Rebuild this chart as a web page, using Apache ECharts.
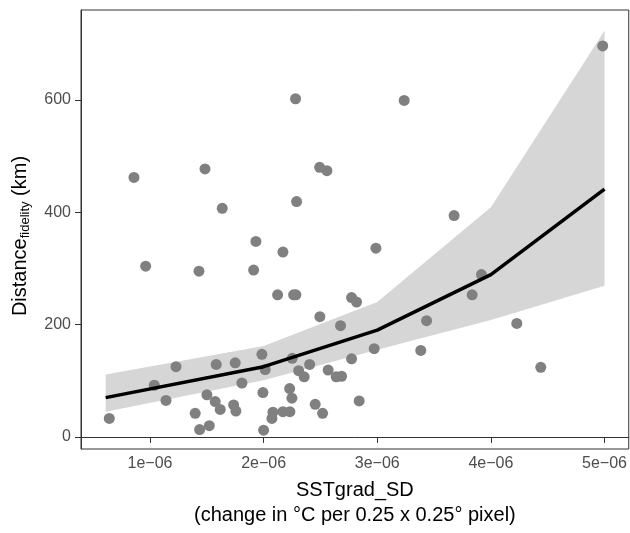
<!DOCTYPE html>
<html>
<head>
<meta charset="utf-8">
<script src="https://cdn.jsdelivr.net/npm/echarts@6/dist/echarts.min.js"></script>
<style>html,body{margin:0;padding:0;background:#fff;}#c{width:630px;height:533px;}</style>
</head>
<body>
<div id="c"></div>
<script>
// x values are in units of 1e-06 (SSTgrad_SD)
const pointX = [0.642,0.859,0.962,1.038,1.141,1.229,1.398,1.431,1.437,1.484,1.501,1.522,1.583,1.574,1.618,1.636,1.736,1.750,1.756,1.809,1.912,1.932,1.985,1.994,2.000,2.014,2.073,2.082,2.123,2.170,2.170,2.231,2.229,2.249,2.252,2.264,2.284,2.281,2.290,2.308,2.357,2.405,2.454,2.495,2.493,2.557,2.519,2.568,2.639,2.686,2.677,2.774,2.774,2.818,2.841,2.973,2.988,3.237,3.383,3.434,3.676,3.835,3.917,4.228,4.439,4.984];
const pointY = [33,462,304,92,65,125,42,295,13,477,75,20,129,63,49,407,57,132,46,96,297,348,147,79,12,120,33,44,253,329,45,45,86,69,140,253,253,602,419,118,107,129,58,214,480,474,42,119,107,108,198,139,248,240,64,157,336,599,154,207,394,253,289,202,124,696];
const fitX = [0.61, 2, 3, 4, 5];
const fitY = [70, 125, 190, 289, 441];
const bandUpper = [111, 162, 240, 409, 723];
const bandLower = [45, 101, 155, 208, 269];
const xTicks = [1, 2, 3, 4, 5];
const yTicks = [0, 200, 400, 600];

const FONT = '"Liberation Sans", Arial, Helvetica, sans-serif';
const chart = echarts.init(document.getElementById('c'), null, {renderer: 'canvas'});

const points = pointX.map((x, i) => [x, pointY[i]]);
const fit = fitX.map((x, i) => [x, fitY[i]]);

chart.setOption({
  animation: false,
  backgroundColor: '#ffffff',
  grid: {left: 81, right: 1, top: 10, bottom: 75, show: true, borderColor: '#333333', borderWidth: 1, containLabel: false},
  xAxis: {
    type: 'value', min: 0.393, max: 5.213,
    axisLine: {show: true, lineStyle: {color: '#333333', width: 1}},
    axisTick: {show: true, length: 6, lineStyle: {color: '#333333', width: 1}, customValues: xTicks},
    axisLabel: {show: true, customValues: xTicks, margin: 7, color: '#4d4d4d', fontSize: 16, fontFamily: FONT,
      formatter: v => v + 'e\u221206'},
    splitLine: {show: false},
    name: 'SSTgrad_SD\n(change in \u00b0C per 0.25 x 0.25\u00b0 pixel)',
    nameLocation: 'middle', nameGap: 29,
    nameTextStyle: {color: '#000', fontSize: 20, fontFamily: FONT, lineHeight: 25, verticalAlign: 'top'}
  },
  yAxis: {
    type: 'value', min: -21.5, max: 760,
    axisLine: {show: true, lineStyle: {color: '#333333', width: 1}},
    axisTick: {show: true, length: 6, lineStyle: {color: '#333333', width: 1}, customValues: yTicks},
    axisLabel: {show: true, customValues: yTicks, margin: 10, color: '#4d4d4d', fontSize: 16, fontFamily: FONT},
    splitLine: {show: false}
  },
  graphic: [{
    type: 'text', x: 20, y: 236, rotation: Math.PI / 2,
    style: {
      text: '{n|Distance}{s|fidelity}{n| (km)}',
      align: 'center', verticalAlign: 'middle',
      fontFamily: FONT,
      rich: {
        n: {fontSize: 20, fill: '#000', fontFamily: FONT, lineHeight: 24, verticalAlign: 'middle'},
        s: {fontSize: 13, fill: '#000', fontFamily: FONT, lineHeight: 12, verticalAlign: 'bottom'}
      }
    }
  }],
  series: [
    {
      type: 'custom', z: 1, silent: true,
      data: [0],
      renderItem: (params, api) => {
        const pts = [];
        for (let i = 0; i < fitX.length; i++) pts.push(api.coord([fitX[i], bandUpper[i]]));
        for (let i = fitX.length - 1; i >= 0; i--) pts.push(api.coord([fitX[i], bandLower[i]]));
        return {type: 'polygon', shape: {points: pts}, style: {fill: '#d6d6d6'}};
      }
    },
    {
      type: 'scatter', z: 2, data: points, symbol: 'circle', symbolSize: 11,
      itemStyle: {color: '#808080', opacity: 1}
    },
    {
      type: 'line', z: 3, data: fit, symbol: 'none', smooth: false,
      lineStyle: {color: '#000000', width: 3.5}
    }
  ]
});
</script>
</body>
</html>
